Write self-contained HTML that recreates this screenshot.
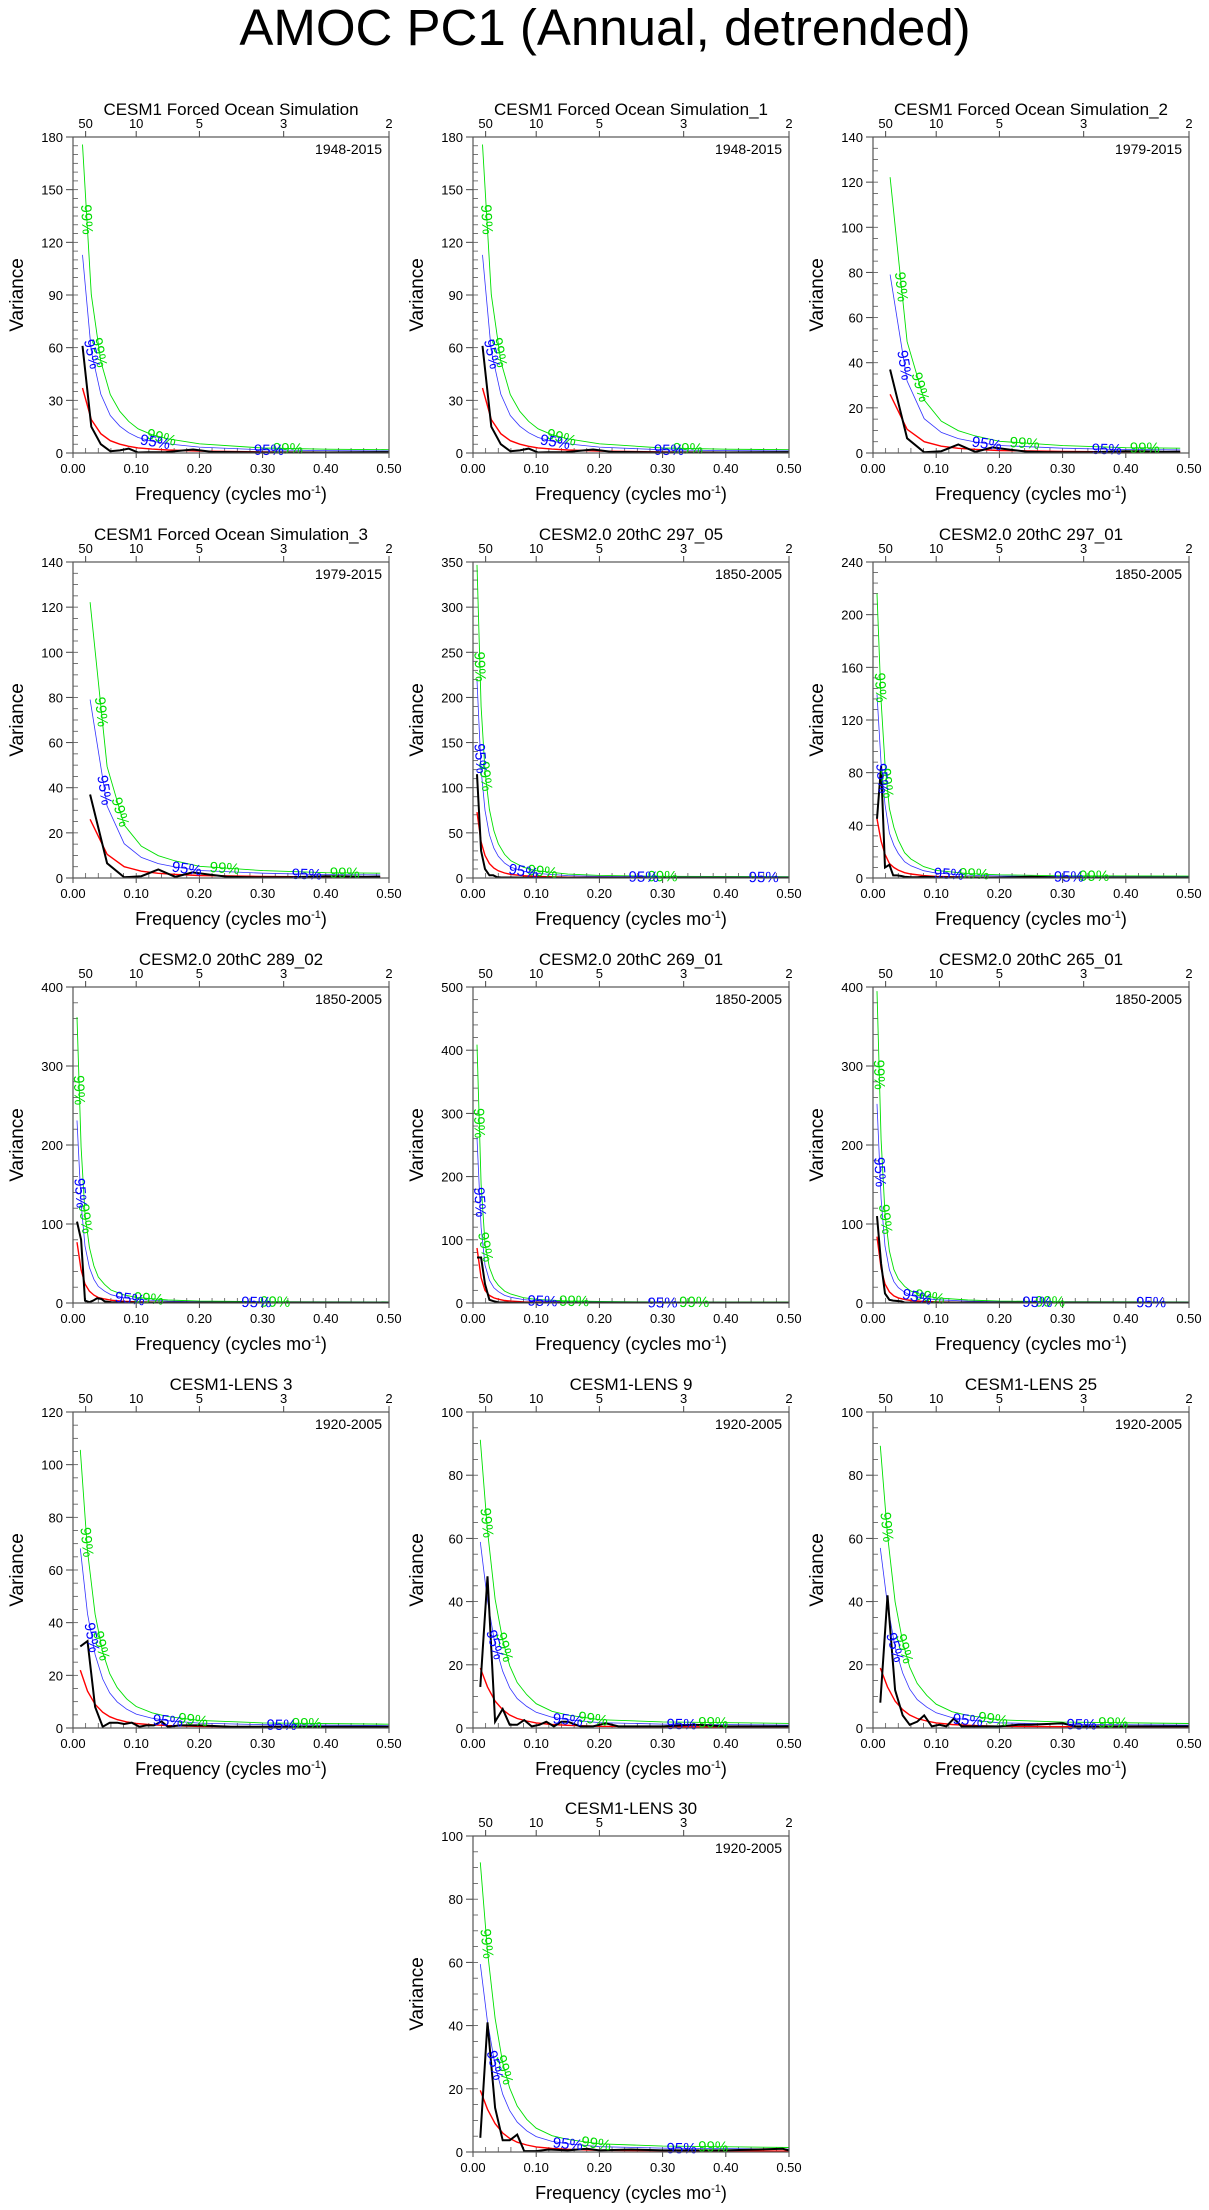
<!DOCTYPE html>
<html><head><meta charset="utf-8"><title>AMOC PC1 (Annual, detrended)</title>
<style>
html,body{margin:0;padding:0;background:#fff;}
svg{display:block;font-family:"Liberation Sans",Arial,sans-serif;}
</style></head>
<body>
<svg id="fig" width="1209" height="2210" viewBox="0 0 1209 2210" xmlns="http://www.w3.org/2000/svg">
<rect x="0" y="0" width="1209" height="2210" fill="#fff"/>
<text x="605" y="45" font-size="51" text-anchor="middle" fill="#000">AMOC PC1 (Annual, detrended)</text>
</svg>
<script>
// ---- chart data ----
const panelTitles = ["CESM1 Forced Ocean Simulation","CESM1 Forced Ocean Simulation_1","CESM1 Forced Ocean Simulation_2","CESM1 Forced Ocean Simulation_3","CESM2.0 20thC 297_05","CESM2.0 20thC 297_01","CESM2.0 20thC 289_02","CESM2.0 20thC 269_01","CESM2.0 20thC 265_01","CESM1-LENS 3","CESM1-LENS 9","CESM1-LENS 25","CESM1-LENS 30"];
const panelYears = ["1948-2015","1948-2015","1979-2015","1979-2015","1850-2005","1850-2005","1850-2005","1850-2005","1850-2005","1920-2005","1920-2005","1920-2005","1920-2005"];
const yMaxes = [180,180,140,140,350,240,400,500,400,120,100,100,100];
const yMajorSteps = [30,30,20,20,50,40,100,100,100,20,20,20,20];
const yMinorSteps = [5,5,5,5,10,8,20,20,20,5,5,5,5];
const xTickValues = [0,0.1,0.2,0.3,0.4,0.5];
const xTickLabels = ["0.00","0.10","0.20","0.30","0.40","0.50"];
const periodValues = [50,10,5,3,2];
const periodLabels = ["50","10","5","3","2"];

const blackFreq = [
 [0.015,0.029,0.044,0.059,0.074,0.088,0.103,0.118,0.147,0.19,0.22,0.3,0.4,0.5],
 [0.015,0.029,0.044,0.059,0.074,0.088,0.103,0.118,0.147,0.19,0.22,0.3,0.4,0.5],
 [0.027,0.054,0.081,0.108,0.135,0.162,0.189,0.216,0.243,0.27,0.3,0.35,0.4,0.43,0.46,0.486],
 [0.027,0.054,0.081,0.108,0.135,0.162,0.189,0.216,0.243,0.27,0.3,0.35,0.4,0.43,0.46,0.486],
 [0.0064,0.0128,0.019,0.026,0.032,0.038,0.045,0.06,0.1,0.2,0.3,0.4,0.5],
 [0.0064,0.0128,0.019,0.026,0.032,0.038,0.045,0.05,0.06,0.07,0.08,0.1,0.2,0.25,0.3,0.4,0.5],
 [0.0064,0.0128,0.019,0.026,0.032,0.038,0.045,0.05,0.06,0.1,0.2,0.5],
 [0.0064,0.0128,0.019,0.026,0.032,0.04,0.06,0.1,0.5],
 [0.0064,0.0128,0.019,0.026,0.032,0.045,0.05,0.1,0.5],
 [0.0116,0.023,0.035,0.047,0.058,0.07,0.081,0.093,0.105,0.116,0.128,0.14,0.15,0.17,0.2,0.25,0.3,0.4,0.5],
 [0.0116,0.023,0.035,0.047,0.058,0.07,0.081,0.093,0.105,0.116,0.128,0.14,0.15,0.17,0.19,0.21,0.23,0.3,0.35,0.4,0.5],
 [0.0116,0.023,0.035,0.047,0.058,0.07,0.081,0.093,0.105,0.116,0.128,0.14,0.2,0.23,0.25,0.3,0.32,0.4,0.5],
 [0.0116,0.023,0.035,0.047,0.058,0.07,0.081,0.1,0.12,0.15,0.18,0.2,0.25,0.3,0.4,0.49,0.5]
];
const blackVals = [
 [61,15,5,1,1.5,2.5,0.3,0.4,0.5,2,0.6,0.3,0.3,0.5],
 [61,15,5,1,1.5,2.5,0.3,0.4,0.5,2,0.6,0.3,0.3,0.5],
 [37,6.5,0.3,0.8,3.8,0.5,2.5,1.5,0.6,0.4,0.3,0.4,0.8,0.7,0.5,0.6],
 [37,6.5,0.3,0.8,3.8,0.5,2.5,1.5,0.6,0.4,0.3,0.4,0.8,0.7,0.5,0.6],
 [115,30,10,3,3,1,0.5,0.5,0.3,0.3,0.3,0.3,0.3],
 [45,85,8,10,2,2,1.5,1,0.5,0.5,1,0.5,0.3,1,0.3,0.3,0.3],
 [103,80,3,1,3,6,5,2,1,0.5,0.5,0.3],
 [72,72,30,5,3,1,0.5,0.5,0.3],
 [110,50,12,4,3,2,0.5,0.5,0.3],
 [31,33,8,0.5,2,2,1.5,2,0.5,1,1,2.5,0.5,1,1,0.5,0.5,0.5,0.5],
 [13,48,2,6,1,1,2.5,0.5,1,2,0.5,2,2,0.5,0.5,1.5,0.5,0.5,1,0.5,0.5],
 [8,42,12,4,1,2,4,0.5,1,0.5,3,0.5,0.5,1,1,1.5,0.5,0.5,0.5],
 [4.5,41,14,3.7,3.7,5.5,0.3,0.3,0.8,0.5,1,0.5,0.8,0.5,0.5,1,0.5]
];
const redFreq = [
 [0.015,0.029,0.044,0.059,0.074,0.088,0.103,0.125,0.15,0.2,0.3,0.4,0.5],
 [0.015,0.029,0.044,0.059,0.074,0.088,0.103,0.125,0.15,0.2,0.3,0.4,0.5],
 [0.027,0.054,0.081,0.108,0.135,0.162,0.2,0.3,0.4,0.486],
 [0.027,0.054,0.081,0.108,0.135,0.162,0.2,0.3,0.4,0.486],
 [0.0064,0.0128,0.019,0.026,0.033,0.04,0.05,0.06,0.08,0.1,0.15,0.2,0.3,0.5],
 [0.0064,0.0128,0.019,0.026,0.033,0.04,0.05,0.06,0.08,0.1,0.15,0.2,0.3,0.5],
 [0.0064,0.0128,0.019,0.026,0.033,0.04,0.05,0.06,0.08,0.1,0.15,0.2,0.3,0.5],
 [0.0064,0.0128,0.019,0.026,0.033,0.04,0.05,0.06,0.08,0.1,0.15,0.2,0.3,0.5],
 [0.0064,0.0128,0.019,0.026,0.033,0.04,0.05,0.06,0.08,0.1,0.15,0.2,0.3,0.5],
 [0.0116,0.023,0.035,0.047,0.058,0.07,0.085,0.1,0.125,0.15,0.2,0.3,0.5],
 [0.0116,0.023,0.035,0.047,0.058,0.07,0.085,0.1,0.125,0.15,0.2,0.3,0.5],
 [0.0116,0.023,0.035,0.047,0.058,0.07,0.085,0.1,0.125,0.15,0.2,0.3,0.5],
 [0.0116,0.023,0.035,0.047,0.058,0.07,0.085,0.1,0.125,0.15,0.2,0.3,0.5]
];
const redVals = [
 [37,19,11,7,5,3.8,2.9,2.2,1.7,1.1,0.6,0.45,0.4],
 [37,19,11,7,5,3.8,2.9,2.2,1.7,1.1,0.6,0.45,0.4],
 [26,10.5,5,3,2.1,1.6,1.1,0.7,0.5,0.45],
 [26,10.5,5,3,2.1,1.6,1.1,0.7,0.5,0.45],
 [73,40,25,16,11,8,5.5,4,2.5,1.7,0.9,0.6,0.4,0.3],
 [45,28,18,11,8,6,4,3,1.8,1.2,0.7,0.5,0.35,0.3],
 [77,42,24,15,10,7,5,3.5,2.2,1.5,0.8,0.5,0.35,0.3],
 [87,40,20,12,8,6,4,3,1.8,1.2,0.7,0.5,0.35,0.3],
 [84,44,24,14,9,6.5,4.5,3.2,2,1.4,0.8,0.5,0.35,0.3],
 [22,14,9,6,4.3,3.2,2.3,1.7,1.2,0.9,0.6,0.4,0.3],
 [19,13,8.5,5.8,4.1,3,2.2,1.6,1.1,0.85,0.55,0.4,0.3],
 [19,13,8.5,5.8,4.1,3,2.2,1.6,1.1,0.85,0.55,0.4,0.3],
 [19.5,13.5,9,6,4.3,3.1,2.2,1.6,1.1,0.85,0.55,0.4,0.3]
];
// chi-square confidence multipliers applied to the red-noise spectrum
const ci95 = [3.05,3.05,3.04,3.04,3.0,3.1,3.0,3.0,3.0,3.1,3.1,3.0,3.05];
const ci99 = [4.75,4.75,4.7,4.7,4.75,4.8,4.7,4.7,4.7,4.8,4.8,4.7,4.7];
const lab95Freq = [
 [0.03,0.13,0.31],[0.03,0.13,0.31],[0.05,0.18,0.37],[0.05,0.18,0.37],
 [0.012,0.08,0.27,0.46],[0.015,0.12,0.31],[0.012,0.09,0.29],[0.011,0.11,0.3],
 [0.011,0.07,0.26,0.44],[0.03,0.15,0.33],[0.035,0.15,0.33],[0.035,0.15,0.33],[0.035,0.15,0.33]];
const lab99Freq = [
 [0.022,0.042,0.14,0.34],[0.022,0.042,0.14,0.34],[0.045,0.075,0.24,0.43],[0.045,0.075,0.24,0.43],
 [0.011,0.02,0.11,0.3],[0.012,0.022,0.16,0.35],[0.01,0.02,0.12,0.32],[0.01,0.02,0.16,0.35],
 [0.01,0.02,0.09,0.28],[0.022,0.045,0.19,0.37],[0.022,0.05,0.19,0.38],[0.022,0.05,0.19,0.38],[0.022,0.05,0.195,0.38]];

// ---- layout ----
const NS = "http://www.w3.org/2000/svg";
const svg = document.getElementById('fig');
const W = 316, H = 316;
const colLeft = [73,473,873];
const rowTop = [137,562,987,1412,1836];
function el(tag, attrs, parent){ const e=document.createElementNS(NS,tag); for(const k in attrs) e.setAttribute(k,attrs[k]); (parent||svg).appendChild(e); return e; }

function drawPanel(i, L, T){
  const g = el('g',{});
  
  
  const ymax = yMaxes[i];
  const xs = f => L + f/0.5*W;
  const ys = v => T + H - v/ymax*H;
  const clip = el('clipPath',{id:'c'+i},g);
  el('rect',{x:L,y:T,width:W,height:H},clip);

  const t = el('text',{x:L+W/2,y:T-22,'font-size':17,'text-anchor':'middle',fill:'#000'},g);
  t.textContent = panelTitles[i];
  
  
  const yr = el('text',{x:L+W-7,y:T+17,'font-size':14,'text-anchor':'end',fill:'#000'},g);
  yr.textContent = panelYears[i];
  
  

  for(let v=0; v<=ymax+1e-9; v+=yMinorSteps[i]){
    el('line',{x1:L,x2:L+5,y1:ys(v),y2:ys(v),stroke:'#555','stroke-width':0.8},g);
  }
  for(let v=0; v<=ymax+1e-9; v+=yMajorSteps[i]){
    el('line',{x1:L-7,x2:L,y1:ys(v),y2:ys(v),stroke:'#444','stroke-width':1},g);
    const tl = el('text',{x:L-10,y:ys(v)+5,'font-size':13,'text-anchor':'end',fill:'#000'},g);
    tl.textContent = String(v);
    
    
  }
  for(let k=1;k<25;k++){
    const f=k*0.02;
    el('line',{x1:xs(f),x2:xs(f),y1:T+H,y2:T+H-5,stroke:'#555','stroke-width':0.8},g);
  }
  xTickValues.forEach((f,j)=>{
    el('line',{x1:xs(f),x2:xs(f),y1:T+H,y2:T+H+5,stroke:'#444','stroke-width':1},g);
    const tl = el('text',{x:xs(f),y:T+H+20,'font-size':13,'text-anchor':'middle',fill:'#000'},g);
    tl.textContent = xTickLabels[j];
    
    
  });
  periodValues.forEach((p,j)=>{
    const x = xs(1/p);
    el('line',{x1:x,x2:x,y1:T,y2:T-6,stroke:'#444','stroke-width':1},g);
    const tl = el('text',{x:x,y:T-9,'font-size':13,'text-anchor':'middle',fill:'#000'},g);
    tl.textContent = periodLabels[j];
    
    
  });
  const xl = el('text',{x:L+W/2,y:T+H+47,'font-size':18,'text-anchor':'middle',fill:'#000'},g);
  xl.innerHTML = 'Frequency (cycles mo<tspan dy="-7" font-size="11">-1</tspan><tspan dy="7">)</tspan>';
  
  
  const yl = el('text',{x:0,y:0,'font-size':19,'text-anchor':'middle',fill:'#000',transform:`translate(${L-50},${T+H/2}) rotate(-90)`},g);
  yl.textContent = 'Variance';
  
  

  const pg = el('g',{'clip-path':`url(#c${i})`},g);
  const toPts = (fa,va,m)=>fa.map((f,k)=>xs(f).toFixed(1)+','+ys(va[k]*m).toFixed(1)).join(' ');
  const green = el('polyline',{points:toPts(redFreq[i],redVals[i],ci99[i]),fill:'none',stroke:'#00e000','stroke-width':0.9},pg);
  
  
  const blue = el('polyline',{points:toPts(redFreq[i],redVals[i],ci95[i]),fill:'none',stroke:'#3333ff','stroke-width':0.8},pg);
  
  
  const red = el('polyline',{points:toPts(redFreq[i],redVals[i],1),fill:'none',stroke:'#ff0000','stroke-width':1.4},pg);
  
  
  const blk = el('polyline',{points:toPts(blackFreq[i],blackVals[i],1),fill:'none',stroke:'#000','stroke-width':2},pg);
  
  

  function interp(f,m){
    const fa=redFreq[i], va=redVals[i];
    if(f<=fa[0]) return va[0]*m;
    for(let k=1;k<fa.length;k++){ if(f<=fa[k]){ const t=(f-fa[k-1])/(fa[k]-fa[k-1]); return (va[k-1]+t*(va[k]-va[k-1]))*m; } }
    return va[va.length-1]*m;
  }
  function label(f,m,txt,col,name){
    const x=xs(f), y=ys(interp(f,m));
    const d=0.004, y2=ys(interp(f+d,m)), x2=xs(f+d);
    let ang=Math.atan2(y2-y,x2-x)*180/Math.PI;
    const tl = el('text',{x:0,y:0,'font-size':15,'text-anchor':'middle',fill:col,transform:`translate(${x.toFixed(1)},${y.toFixed(1)}) rotate(${ang.toFixed(1)}) translate(0,5)`},g);
    tl.textContent = txt;
    
    
  }
  lab99Freq[i].forEach(f=>label(f,ci99[i],'99%','#00dd00','ci99-label'));
  lab95Freq[i].forEach(f=>label(f,ci95[i],'95%','#0000ff','ci95-label'));

  el('rect',{x:L,y:T,width:W,height:H,fill:'none',stroke:'#555','stroke-width':1.2},g);
}

for(let i=0;i<13;i++){
  let L,T;
  if(i<12){ L=colLeft[i%3]; T=rowTop[Math.floor(i/3)]; }
  else { L=colLeft[1]; T=rowTop[4]; }
  drawPanel(i,L,T);
}
</script>
</body></html>
